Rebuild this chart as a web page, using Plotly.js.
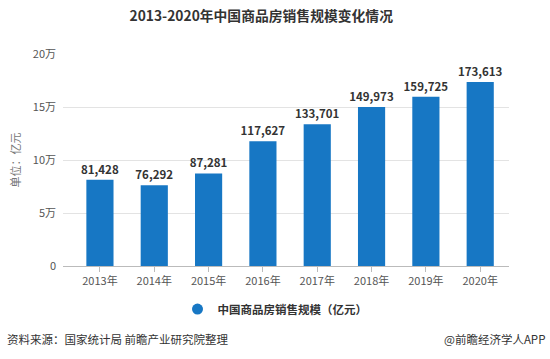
<!DOCTYPE html>
<html>
<head>
<meta charset="utf-8">
<script src="https://cdn.plot.ly/plotly-3.0.1.min.js"></script>
<style>html,body{margin:0;padding:0;background:#fff;}#chart{width:550px;height:359px;}</style>
</head>
<body>
<div id="chart"></div>
<script>
const years = ['2013年','2014年','2015年','2016年','2017年','2018年','2019年','2020年'];
const sales = [81428, 76292, 87281, 117627, 133701, 149973, 159725, 173613];
const yTickVals = [0, 50000, 100000, 150000, 200000];
const yTickText = ['0', '5万', '10万', '15万', '20万'];
const seriesName = '中国商品房销售规模（亿元）';

const FONT = '"Noto Sans CJK SC", "Microsoft YaHei", sans-serif';
const barColor = '#1777c4';

const traces = [
  {
    type: 'bar',
    x: years,
    y: sales,
    marker: {color: barColor},
    width: 0.5,
    text: sales.map(v => v.toLocaleString('en-US')),
    textposition: 'outside',
    constraintext: 'none',
    cliponaxis: false,
    textfont: {family: FONT, size: 11.5, color: '#333', weight: 'bold'},
    showlegend: false,
    hoverinfo: 'x+y'
  },
  {
    type: 'scatter',
    mode: 'markers',
    x: [null], y: [null],
    name: seriesName,
    marker: {color: barColor, size: 11, symbol: 'circle'},
    showlegend: true
  }
];

const layout = {
  width: 550, height: 359,
  margin: {l: 63, r: 41, t: 54, b: 93},
  paper_bgcolor: '#fff', plot_bgcolor: '#fff',
  font: {family: FONT, size: 11, color: '#555'},
  title: {
    text: '<b>2013-2020年中国商品房销售规模变化情况</b>',
    font: {family: FONT, size: 13.8, color: '#333'},
    x: 0.475, xanchor: 'center', y: 0.955, yanchor: 'middle'
  },
  xaxis: {
    type: 'category',
    range: [-0.68, 7.53],
    showgrid: false,
    showline: true, linecolor: '#bbb', linewidth: 1,
    ticks: 'outside', ticklen: 5, tickcolor: '#bbb',
    tickfont: {family: FONT, size: 11, color: '#555'},
    fixedrange: true
  },
  yaxis: {
    range: [0, 200000],
    tickvals: yTickVals,
    ticktext: yTickText,
    showgrid: true, gridcolor: '#e3e3e3', gridwidth: 1,
    zeroline: false,
    showline: false,
    ticks: '', ticklabelstandoff: 6,
    tickfont: {family: FONT, size: 11, color: '#555'},
    title: {text: '单位：亿元', font: {family: FONT, size: 11, color: '#777'}, standoff: 9},
    fixedrange: true
  },
  legend: {
    orientation: 'h',
    xref: 'container', yref: 'container',
    x: 0.5, xanchor: 'center',
    y: 0.139, yanchor: 'middle',
    font: {family: FONT, size: 11.5, color: '#333', weight: 'bold'},
    itemwidth: 20
  },
  annotations: [
    {
      text: '资料来源：国家统计局 前瞻产业研究院整理',
      xref: 'paper', yref: 'paper',
      x: -63/446, xanchor: 'left', xshift: 5,
      y: -(339-266)/212, yanchor: 'middle',
      showarrow: false,
      font: {family: FONT, size: 11.5, color: '#333'}
    },
    {
      text: '@前瞻经济学人APP',
      xref: 'paper', yref: 'paper',
      x: (547-63)/446, xanchor: 'right',
      y: -(339-266)/212, yanchor: 'middle',
      showarrow: false,
      font: {family: FONT, size: 11.5, color: '#333'}
    }
  ],
  bargap: 0.5,
  showlegend: true
};

Plotly.newPlot('chart', traces, layout, {displayModeBar: false, staticPlot: true});
</script>
</body>
</html>
